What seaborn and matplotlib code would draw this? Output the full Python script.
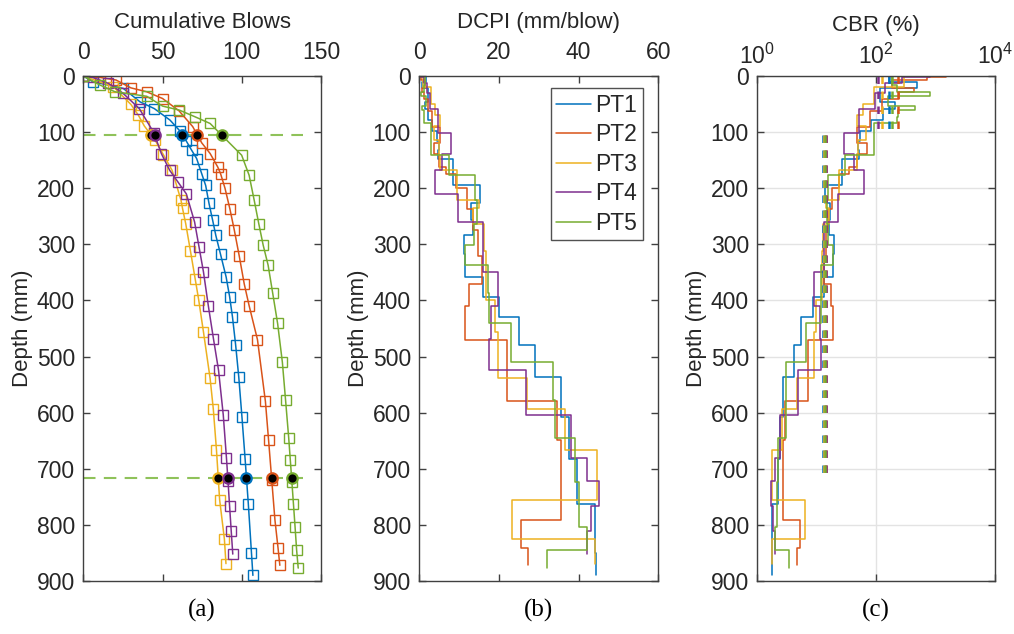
import numpy as np
import matplotlib
matplotlib.use("Agg")
import matplotlib.pyplot as plt
import seaborn as sns

# ---------------- data ----------------
series_names = ["PT1", "PT2", "PT3", "PT4", "PT5"]
colors = ["#0072BD", "#D95319", "#EDB120", "#7E2F8E", "#77AC30"]

pt1_depth = [0, 10, 22, 46, 58, 78.5, 98, 115, 132, 147, 174, 195, 227, 257, 284,
             318, 358, 393, 429, 479, 537, 608, 683, 762, 850, 890]
pt1_blows = [0, 6, 25.2, 35.8, 44.8, 54.7, 61, 64.8, 68.3, 71.5, 74.7, 77.2, 79.3,
             81.6, 83.6, 86.6, 90.1, 92.3, 94.1, 96.1, 98.1, 100.1, 102.1, 104.1,
             106.1, 107.0]

pt2_depth = [0, 2.4, 7, 21, 28, 40, 62, 90, 119, 138, 162, 174, 200, 237, 275, 321,
             370, 409, 470, 580, 649, 720, 791, 842, 872]
pt2_blows = [0, 10.5, 20.6, 30, 40, 50, 60.4, 69, 74.7, 80, 84.8, 86.6, 89.4, 92.5,
             95.3, 98.4, 101.5, 104.6, 109.9, 114.9, 116.9, 118.9, 120.9, 122.9, 124.0]

pt3_depth = [0, 19, 50.5, 69.6, 89, 114, 140, 168, 221, 236, 263, 312, 362, 399, 456,
             539, 593, 666, 755, 825, 869]
pt3_blows = [0, 18.9, 30, 34.7, 38.5, 45.2, 50.5, 56, 61.6, 62.6, 64.6, 67.6, 70.6,
             72.8, 75.8, 80.0, 82.0, 84.0, 86.0, 89.0, 90.0]

pt4_depth = [0, 2.4, 13, 30, 58, 101, 138, 168, 188, 210, 260, 304.5, 349, 410, 468,
             524, 604, 680, 722, 767, 810, 852]
pt4_blows = [0, 5.9, 15.8, 24.8, 35.3, 44.5, 49.2, 54.5, 59.5, 65, 70.2, 73, 75.8,
             78.9, 82.1, 85.3, 88.3, 90.3, 91.3, 92.3, 93.3, 94.3]

pt5_depth = [0, 16, 28, 36, 53.5, 60.7, 72.6, 84.5, 141, 176.6, 221, 263, 301.5, 337,
             387, 441, 510, 577, 645, 684, 723, 763, 803, 845, 877]
pt5_blows = [0, 10.5, 20, 40, 50, 60.6, 70.5, 80, 99.9, 104.6, 107.8, 110.7, 113.5,
             116.6, 119.5, 122.6, 125.6, 127.6, 129.6, 130.6, 131.6, 132.6, 133.6,
             134.6, 135.6]

depths = [pt1_depth, pt2_depth, pt3_depth, pt4_depth, pt5_depth]
blows = [pt1_blows, pt2_blows, pt3_blows, pt4_blows, pt5_blows]

# layer boundaries and layer-average CBR
layer_depths = [105, 716]
cbr_layer1 = [165, 235, 125, 108, 185]
cbr_layer2 = [12.8, 14.2, 13.4, 14.6, 13.7]

# ---------------- style ----------------
sns.set_style("white")
plt.rcParams["font.family"] = ["Liberation Sans", "DejaVu Sans"]
axcol = "#404040"
plt.rcParams.update({
    "axes.edgecolor": axcol, "axes.linewidth": 1.0,
    "xtick.color": axcol, "ytick.color": axcol,
    "text.color": "#262626", "axes.labelcolor": "#262626",
    "xtick.labelcolor": "#262626", "ytick.labelcolor": "#262626",
})

fig = plt.figure(figsize=(10.14, 6.34), dpi=100)
bot, hgt = 0.0836, 0.7964
ax_a = fig.add_axes([0.0822, bot, 0.2344, hgt])
ax_b = fig.add_axes([0.4135, bot, 0.2357, hgt])
ax_c = fig.add_axes([0.7468, bot, 0.2345, hgt])

FS = 16.5
FL = 16


def style_axis(ax, xlabel):
    ax.set_ylim(900, 0)
    ax.set_yticks(np.arange(0, 901, 100))
    ax.xaxis.tick_top()
    ax.xaxis.set_label_position("top")
    ax.set_xlabel(xlabel, fontsize=FL, labelpad=9)
    ax.set_ylabel("Depth (mm)", fontsize=FL, labelpad=3)
    ax.tick_params(axis="both", which="major", direction="in", length=5, width=1,
                   labelsize=FS, top=True, bottom=True, left=True, right=True,
                   labeltop=True, labelbottom=False)
    ax.tick_params(axis="x", pad=9)
    ax.tick_params(axis="y", pad=6)
    for s in ax.spines.values():
        s.set_visible(True)
        s.set_color(axcol)


def step_xy(depth, vals):
    d = np.asarray(depth, float)
    v = np.asarray(vals, float)
    return np.repeat(v, 2), np.repeat(d, 2)[1:-1]


# ---------------- panel (a) ----------------
for name, c, d, b in zip(series_names, colors, depths, blows):
    sns.lineplot(x=b, y=d, sort=False, estimator=None, color=c, lw=1.1,
                 marker="s", markersize=7, markerfacecolor="none",
                 markeredgecolor=c, markeredgewidth=1.0, ax=ax_a)
for ld in layer_depths:
    ax_a.axhline(ld, xmin=0, xmax=0.925, color="#8fc25a", lw=1.5,
                 dashes=(6, 4), zorder=1)
for c, d, b in zip(colors, depths, blows):
    for ld in layer_depths:
        bx = np.interp(ld, d, b)
        ax_a.plot([bx], [ld], "o", ms=7.5, mfc="black", mec=c, mew=1.6, zorder=5)
ax_a.set_xlim(0, 150)
ax_a.set_xticks([0, 50, 100, 150])
style_axis(ax_a, "Cumulative Blows")

# ---------------- panel (b) ----------------
dcpi_all = []
for name, c, d, b in zip(series_names, colors, depths, blows):
    dcpi = np.diff(d) / np.diff(b)
    dcpi_all.append(dcpi)
    xs, ys = step_xy(d, dcpi)
    sns.lineplot(x=xs, y=ys, sort=False, estimator=None, color=c, lw=1.1,
                 ax=ax_b, label=name)
ax_b.set_xlim(0, 60)
ax_b.set_xticks([0, 20, 40, 60])
style_axis(ax_b, "DCPI (mm/blow)")
leg = ax_b.legend(loc="upper right", bbox_to_anchor=(0.936, 0.976),
                  borderaxespad=0, fontsize=FS, frameon=True, fancybox=False,
                  edgecolor="#262626", handlelength=1.5, handletextpad=0.2,
                  labelspacing=0.28, borderpad=0.25)
leg.get_frame().set_linewidth(1.0)

# ---------------- panel (c) ----------------
for name, c, d, dcpi in zip(series_names, colors, depths, dcpi_all):
    cbr_gen = 292.0 / dcpi ** 1.12
    cbr_cl = 1.0 / (0.017019 * dcpi) ** 2
    cbr = np.where(cbr_cl < 10, cbr_cl, cbr_gen)
    xs, ys = step_xy(d, cbr)
    sns.lineplot(x=xs, y=ys, sort=False, estimator=None, color=c, lw=1.1, ax=ax_c)
for c, v1, v2 in zip(colors, cbr_layer1, cbr_layer2):
    ax_c.plot([v1, v1], [0, layer_depths[0]], color=c, lw=1.8, dashes=(3, 3))
    ax_c.plot([v2, v2], [layer_depths[0], layer_depths[1]], color=c, lw=1.8,
              dashes=(3, 3))
ax_c.set_xscale("log")
ax_c.set_xlim(1, 1e4)
ax_c.set_xticks([1, 100, 10000])
ax_c.minorticks_off()
ax_c.grid(True, which="major", color="#e3e3e3", lw=1.0)
ax_c.set_axisbelow(True)
style_axis(ax_c, "CBR (%)")
ax_c.tick_params(axis="x", pad=5)
ax_c.minorticks_off()

# panel labels
for ax, lab in zip([ax_a, ax_b, ax_c], ["(a)", "(b)", "(c)"]):
    ax.text(0.5, -0.035, lab, transform=ax.transAxes, ha="center", va="top",
            fontsize=18, family="Liberation Serif", color="black")

fig.savefig("out.png", dpi=100)
